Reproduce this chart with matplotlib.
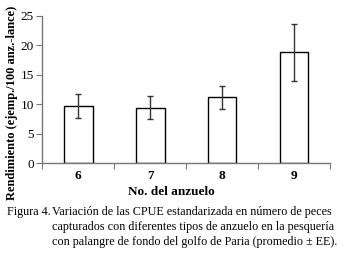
import matplotlib
matplotlib.use("Agg")
import matplotlib.pyplot as plt
import numpy as np

categories = ["6", "7", "8", "9"]
means = [9.75, 9.45, 11.2, 18.85]
errors = [2.0, 2.0, 2.0, 4.8]
yticks = [0, 5, 10, 15, 20, 25]

plt.rcParams['font.family'] = ['Liberation Serif', 'DejaVu Serif']

fig = plt.figure(figsize=(3.43, 2.56), dpi=100)
ax = fig.add_axes([42.3/343, 1-163.3/256, (330-42.3)/343, (163.3-16)/256])

x = np.arange(len(categories))
ax.bar(x, means, width=0.4, color='white', edgecolor='black', linewidth=1.0, zorder=2)
ax.errorbar(x, means, yerr=errors, fmt='none', ecolor='#333333', elinewidth=1.0,
            capsize=2.5, capthick=1.0, zorder=3)

ax.set_xlim(-0.5, 3.5)
ax.set_ylim(0, 25)
ax.set_yticks(yticks)
ax.set_yticklabels([str(v) for v in yticks], fontsize=9.5)
ax.set_xticks(np.arange(-0.5, 4.0, 1.0))
ax.set_xticklabels([])
ax.set_xticks(x, minor=True)
ax.set_xticklabels(categories, minor=True, fontsize=9.5, fontweight='bold')
ax.tick_params(axis='x', which='minor', length=0, pad=5)
ax.tick_params(axis='x', which='major', length=4, color='#777777', direction='out')
ax.tick_params(axis='y', length=4, color='#777777', direction='out', pad=2)

for s in ['top', 'right']:
    ax.spines[s].set_visible(False)
for s in ['left', 'bottom']:
    ax.spines[s].set_color('#777777')
    ax.spines[s].set_linewidth(1.0)

fig.text(171/343, 1-192/256, "No. del anzuelo", ha='center', va='center',
         fontsize=9.5, fontweight='bold')
fig.text(12/343, 1-103/256, "Rendimiento (ejemp./100 anz.-lance)", ha='center', va='center',
         rotation=90, fontsize=9, fontweight='bold')

cap_fs = 8.75
fig.text(7/343, 1-212/256, "Figura 4.", ha='left', va='center', fontsize=cap_fs)
lines = ["Variación de las CPUE estandarizada en número de peces",
         "capturados con diferentes tipos de anzuelo en la pesquería",
         "con palangre de fondo del golfo de Paria (promedio ± EE)."]
for i, t in enumerate(lines):
    fig.text(52/343, 1-(212+15*i)/256, t, ha='left', va='center', fontsize=cap_fs)

fig.savefig("out.png", dpi=100)
